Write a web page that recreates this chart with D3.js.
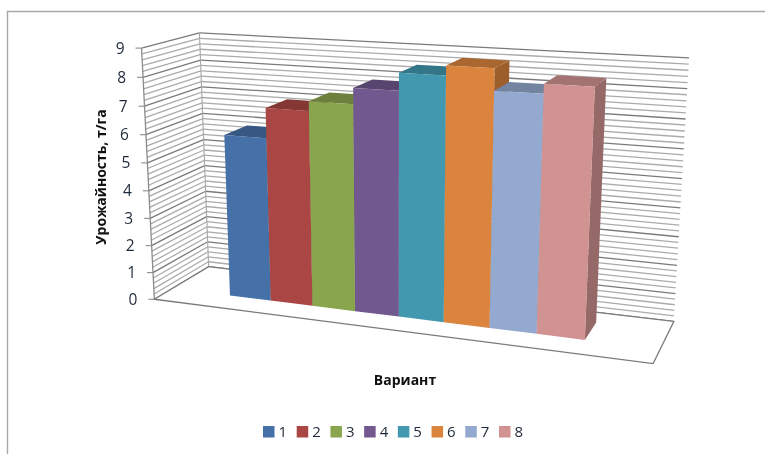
<!DOCTYPE html>
<html>
<head>
<meta charset="utf-8">
<script src="https://cdn.jsdelivr.net/npm/d3@7"></script>
<style>
  html, body { margin: 0; padding: 0; background: #fff; }
  svg { display: block; filter: blur(0.45px); }
  text { font-family: "Open Sans", "Noto Sans", sans-serif; fill: #1f2a3a; }
</style>
</head>
<body>
<svg id="chart"></svg>
<script>
// Chart data
const categories = ["1", "2", "3", "4", "5", "6", "7", "8"];
const values = [5.9, 6.96, 7.3, 7.85, 8.45, 8.77, 8.05, 8.37];
const colors = ["#4571a8", "#aa4643", "#89a54e", "#71588f", "#4198af", "#db843d", "#93a9cf", "#d19392"];
const valueTicks = [0, 1, 2, 3, 4, 5, 6, 7, 8, 9];
const minorStep = 0.2;

const width = 765;
const height = 454;

const svg = d3.select("#chart").attr("width", width).attr("height", height);

// Where the corners of the 3D box land on screen: [x, h, z] -> [px, py]
const boxCorners = [
  [[0, 0, 0], [155, 299]],
  [[0, 1, 0], [141, 48]],
  [[0, 0, 1], [208, 267]],
  [[0, 1, 1], [200, 33]],
  [[1, 0, 1], [674, 321]],
  [[1, 1, 1], [689, 58]],
  [[1, 0, 0], [653, 364]]
];

// Fit a perspective camera to the corners (least squares, normal equations)
function fitCamera(pairs) {
  const rows = [], rhs = [];
  pairs.forEach(function(p) {
    const [x, h, z] = p[0], [u, v] = p[1];
    rows.push([x, h, z, 1, 0, 0, 0, 0, -u * x, -u * h, -u * z]); rhs.push(u);
    rows.push([0, 0, 0, 0, x, h, z, 1, -v * x, -v * h, -v * z]); rhs.push(v);
  });
  const n = 11;
  const m = d3.range(n).map(function(i) {
    const row = d3.range(n).map(function(j) { return d3.sum(rows, function(r) { return r[i] * r[j]; }); });
    row.push(d3.sum(rows, function(r, k) { return r[i] * rhs[k]; }));
    return row;
  });
  for (let c = 0; c < n; c++) {
    let best = c;
    for (let r = c + 1; r < n; r++) if (Math.abs(m[r][c]) > Math.abs(m[best][c])) best = r;
    [m[c], m[best]] = [m[best], m[c]];
    for (let r = 0; r < n; r++) {
      if (r === c) continue;
      const f = m[r][c] / m[c][c];
      for (let k = c; k <= n; k++) m[r][k] -= f * m[c][k];
    }
  }
  return m.map(function(row, i) { return row[n] / row[i]; });
}
const cam = fitCamera(boxCorners);

function project(x, h, z) {
  const w = cam[8] * x + cam[9] * h + cam[10] * z + 1;
  return [(cam[0] * x + cam[1] * h + cam[2] * z + cam[3]) / w,
          (cam[4] * x + cam[5] * h + cam[6] * z + cam[7]) / w];
}

// Scales run in box units, project() turns them into pixels
const xScale = d3.scaleBand().domain(categories).range([0.132, 0.862]).padding(0);
const yScale = d3.scaleLinear().domain([0, 9]).range([0, 1]);
const barFront = 0.32;
const barBack = 0.75;

const poly = function(points) { return points.map(function(p) { return p.join(","); }).join(" "); };
const segment = function(g, a, b, stroke, sw) {
  g.append("line")
    .attr("x1", a[0]).attr("y1", a[1])
    .attr("x2", b[0]).attr("y2", b[1])
    .attr("stroke", stroke).attr("stroke-width", sw);
};

// Outer frame, only top and left are visible
svg.append("path")
  .attr("d", "M7.5,454V11.5H765")
  .attr("fill", "none")
  .attr("stroke", "#a8a8a8")
  .attr("stroke-width", 1.4);

// Gridlines on both walls
const grid = svg.append("g");
const gridCount = Math.round(9 / minorStep);
d3.range(gridCount + 1).forEach(function(i) {
  const v = i * minorStep;
  const major = i % 5 === 0;
  const h = yScale(v);
  const stroke = major ? "#7a7a7a" : "#ababab";
  const sw = major ? 1.3 : 1.3;
  segment(grid, project(0, h, 0), project(0, h, 1), stroke, sw);
  segment(grid, project(0, h, 1), project(1, h, 1), stroke, sw);
});

// Wall edges and floor
const frame = svg.append("g");
segment(frame, project(0, 0, 1), project(0, 1, 1), "#a6a6a6", 1.1);
segment(frame, project(0, 0, 0), project(0, 1, 0), "#8c8c8c", 1.3);
svg.append("polygon")
  .attr("points", poly([project(0, 0, 0), project(1, 0, 0), project(1, 0, 1), project(0, 0, 1)]))
  .attr("fill", "#fff")
  .attr("stroke", "#7a7a7a")
  .attr("stroke-width", 1.3);

// Value axis ticks and labels
const axis = svg.append("g");
valueTicks.forEach(function(t) {
  const p = project(0, yScale(t), 0);
  segment(axis, [p[0] - 6, p[1]], p, "#8c8c8c", 1.1);
  axis.append("text")
    .attr("x", p[0] - 17)
    .attr("y", p[1] + 5.5)
    .attr("text-anchor", "end")
    .attr("font-size", 15.5)
    .text(t);
});

// Bars, left to right so each one covers the side of the previous
const bars = svg.append("g").selectAll("g")
  .data(categories)
  .enter()
  .append("g");

bars.each(function(c, i) {
  const g = d3.select(this);
  const x0 = xScale(c), x1 = x0 + xScale.bandwidth();
  const h = yScale(values[i]);
  const col = colors[i];
  g.append("polygon")
    .attr("points", poly([project(x1, 0, barFront), project(x1, 0, barBack), project(x1, h, barBack), project(x1, h, barFront)]))
    .attr("fill", d3.rgb(col).darker(0.95));
  g.append("polygon")
    .attr("points", poly([project(x0, h, barFront), project(x1, h, barFront), project(x1, h, barBack), project(x0, h, barBack)]))
    .attr("fill", d3.rgb(col).darker(0.7));
  g.append("polygon")
    .attr("points", poly([project(x0, 0, barFront), project(x1, 0, barFront), project(x1, h, barFront), project(x0, h, barFront)]))
    .attr("fill", col);
});

// Axis titles
svg.append("text")
  .attr("transform", "translate(106,177) rotate(-90)")
  .attr("text-anchor", "middle")
  .attr("font-size", 14)
  .attr("font-weight", 700)
  .style("fill", "#111")
  .text("Урожайность, т/га");

svg.append("text")
  .attr("x", 405)
  .attr("y", 384.5)
  .attr("text-anchor", "middle")
  .attr("font-size", 14)
  .attr("font-weight", 700)
  .style("fill", "#111")
  .text("Вариант");

// Legend
const legendX = d3.scalePoint().domain(categories).range([263, 499]);
const legend = svg.append("g").selectAll("g")
  .data(categories)
  .enter()
  .append("g")
  .attr("transform", function(d) { return "translate(" + legendX(d) + ",426)"; });

legend.append("rect")
  .attr("width", 11.5)
  .attr("height", 11.5)
  .attr("fill", function(d, i) { return colors[i]; });

legend.append("text")
  .attr("x", 15.5)
  .attr("y", 11)
  .attr("font-size", 15)
  .text(function(d) { return d; });
</script>
</body>
</html>
